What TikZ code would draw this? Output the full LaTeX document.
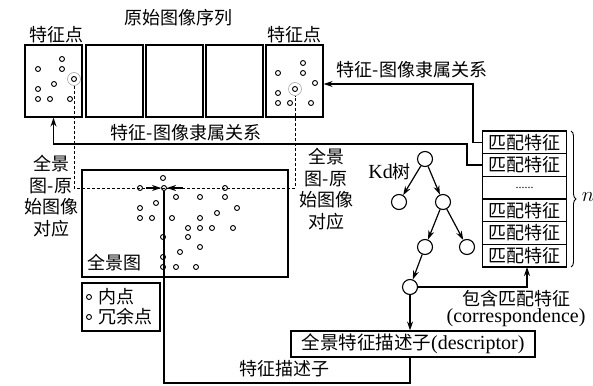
\documentclass[tikz,border=0pt]{standalone}
\usepackage{fontspec}
\setmainfont{Liberation Serif}
\newfontfamily\cjk{Noto Sans CJK SC}
\usetikzlibrary{arrows.meta,decorations.pathreplacing,calc}
\begin{document}
\begin{tikzpicture}[x=1pt,y=-1pt,
  zh/.style={font=\cjk\fontsize{18}{21.5}\selectfont, inner sep=0pt, align=center},
  lat/.style={font=\fontsize{20}{22}\selectfont, inner sep=0pt},
  imgframe/.style={draw, line width=1.3pt, minimum width=57pt, minimum height=72pt, inner sep=0pt},
  fdot/.style={circle, draw, line width=0.9pt, minimum size=5pt, inner sep=0pt},
  ringc/.style={circle, draw=gray!70, line width=0.6pt, minimum size=13pt, inner sep=0pt},
  kd/.style={circle, draw, line width=1.1pt, minimum size=15pt, inner sep=0pt},
  mbox/.style={draw, line width=1.1pt, minimum width=84pt, minimum height=22.67pt, inner sep=0pt, font=\cjk\fontsize{18}{20}\selectfont},
  conn/.style={line width=1.2pt},
  arr/.style={line width=1.2pt, -{Stealth[length=9pt,width=6pt]}},
  dsh/.style={line width=0.9pt, dash pattern=on 3pt off 2pt},
]
\useasboundingbox (0,0) rectangle (593,385);

% titles
\node[zh] (title) at (178,18) {原始图像序列};
\node[zh] (fp1) at (56,35) {特征点};
\node[zh] (fp5) at (294,35) {特征点};

% image frames
\node[imgframe] (f1) at (53.5,81) {};
\node[imgframe] (f2) at (114.5,81) {};
\node[imgframe] (f3) at (174.5,81) {};
\node[imgframe] (f4) at (234.5,81) {};
\node[imgframe] (f5) at (294.5,81) {};

% feature points frame 1
\foreach \px/\py [count=\i] in {38/69, 62/59, 62/69, 38/89, 54/84, 38/99, 50/99, 70/99}
  \node[fdot] (a\i) at (\px,\py) {};
\node[fdot] (r1) at (74,79) {};
\node[ringc] (rr1) at (r1) {};

% feature points frame 5
\foreach \px/\py [count=\i] in {278/73, 278/93, 278/103, 290/103, 303/63, 303/73, 315/83, 311/103}
  \node[fdot] (b\i) at (\px,\py) {};
\node[fdot] (r5) at (295,89) {};
\node[ringc] (rr5) at (r5) {};

% panorama
\node[draw, line width=1.3pt, minimum width=206pt, minimum height=107pt, inner sep=0pt] (pano) at (185,223.5) {};
\node[zh] (panolab) at (114,263) {全景图};
\foreach \px/\py [count=\i] in {163/178, 225/188, 176/197, 200/197, 225/197, 156/203, 140/208, 237/208, 217/213,
  140/218, 152/218, 172/218, 200/218, 188/228, 200/228, 212/228, 233/228, 163/237, 188/237, 200/247, 180/252,
  163/257, 163/267, 176/267, 196/267}
  \node[fdot] (p\i) at (\px,\py) {};
\node[fdot] (pl) at (140,188) {};
\node[fdot] (c) at (164,188) {};

% dashed correspondence
\draw[dsh] (rr1.south) -- (rr1.south |- c) -- (rr5.south |- c) -- (rr5.south);
\coordinate (cl) at (146,188);
\coordinate (cr) at (183,188);
\draw[arr] (cl) -- (c.west);
\draw[arr] (cr) -- (c.east);

\node[zh] (corrL) at (51,196) {全景\\图-原\\始图像\\对应};
\node[zh] (corrR) at (326,189) {全景\\图-原\\始图像\\对应};

% legend
\node[draw, line width=1.6pt, minimum width=78pt, minimum height=48pt, inner sep=0pt] (leg) at (121,307) {};
\node[fdot] (ld1) at (89,297) {};
\node[fdot] (ld2) at (89,317) {};
\node[zh, anchor=west] (lt1) at (98,297) {内点};
\node[zh, anchor=west] (lt2) at (98,317) {冗余点};

% matching feature column
\node[mbox] (m1) at (524.5,142.33) {匹配特征};
\node[mbox] (m2) at (524.5,165) {匹配特征};
\node[mbox, font=\fontsize{12}{12}\selectfont] (m3) at (524.5,187.67) {......};
\node[mbox] (m4) at (524.5,210.33) {匹配特征};
\node[mbox] (m5) at (524.5,233) {匹配特征};
\node[mbox] (m6) at (524.5,255.67) {匹配特征};
\draw[decorate, decoration={brace, amplitude=5pt}, line width=0.9pt] (571,131) -- (571,267);
\node[lat, font=\itshape\fontsize{20}{22}\selectfont] (nlab) at (588,197) {$n$};

% feature-image relations
\coordinate (t1) at (473,84);
\draw[arr] (m1.west) -| (t1) -- (t1 -| f5.east);
\node[zh] (rel1) at (412,70) {特征-图像隶属关系};
\coordinate (t2) at (467,144);
\draw[arr] (m2.west) -| (t2) -| (f1.south);
\node[zh] (rel2) at (186,133) {特征-图像隶属关系};

% kd tree
\node[kd] (k1) at (425,159) {};
\node[kd] (k2) at (399,202) {};
\node[kd] (k3) at (443,202) {};
\node[kd] (k4) at (425,247) {};
\node[kd] (k5) at (467,247) {};
\node[kd] (k6) at (410,287) {};
\node[lat, anchor=east] (kdlab) at (411,172) {Kd{\cjk\fontsize{18}{20}\selectfont 树}};
\draw[arr] (k1) -- (k2);
\draw[arr] (k1) -- (k3);
\draw[arr] (k3) -- (k4);
\draw[arr] (k3) -- (k5);
\draw[arr] (k4) -- (k6);

% descriptor
\node[draw, line width=1.1pt, minimum width=244pt, minimum height=26pt, inner sep=0pt, font=\fontsize{20}{22}\selectfont] (desc) at (413,344) {{\cjk\fontsize{18.5}{20}\selectfont 全景特征描述子}(descriptor)};
\draw[arr] (k6) -- (k6 |- desc.north);
\coordinate (mup) at (527,267);
\draw[arr] (k6) -- (k6 -| mup) -- (mup);
\node[zh] (corr1) at (516,299) {包含匹配特征};
\node[lat] (corr2) at (516,318) {(correspondence)};

\coordinate (b0) at (164,383);
\draw[conn] (c) -- (b0) -| (k6 |- desc.south);
\node[zh] (desclab) at (284,369) {特征描述子};
\end{tikzpicture}
\end{document}
